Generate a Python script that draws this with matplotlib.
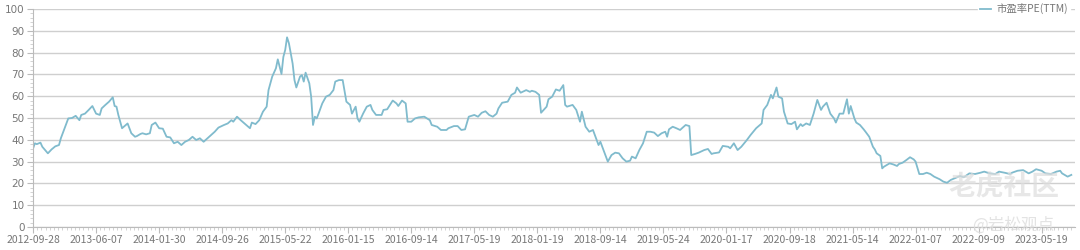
import numpy as np
import matplotlib.pyplot as plt
from matplotlib.ticker import MultipleLocator

plt.rcParams['font.family'] = ['Noto Sans CJK SC', 'DejaVu Sans']

# weekly category index -> PE(TTM)
week = [0, 1, 2, 4, 5, 8, 10, 12, 14, 15, 17, 18, 19, 21, 23, 25, 26, 28, 30, 32,
        34, 36, 37, 39, 41, 43, 44, 45, 46, 48, 50, 51, 53, 55, 56, 58, 59, 61, 63, 64,
        66, 68, 70, 72, 74, 76, 78, 80, 82, 84, 86, 88, 90, 92, 95, 98, 100, 103, 105, 107,
        108, 110, 112, 115, 117, 118, 120, 122, 124, 126, 127, 129, 131, 132, 134, 135, 136, 137, 138, 140,
        141, 142, 144, 145, 146, 147, 149, 150, 151, 152, 153, 154, 156, 158, 160, 162, 163, 165, 167, 169,
        171, 172, 174, 175, 176, 178, 180, 182, 183, 185, 188, 189, 191, 194, 196, 197, 199, 201, 202, 204,
        206, 208, 211, 214, 215, 218, 220, 223, 224, 227, 229, 231, 233, 235, 238, 240, 242, 244, 246, 248,
        250, 251, 253, 256, 258, 260, 261, 263, 266, 268, 269, 271, 273, 274, 277, 278, 280, 282, 284, 286,
        287, 288, 291, 293, 295, 296, 298, 300, 302, 303, 305, 306, 308, 310, 312, 314, 316, 318, 320, 322,
        323, 325, 327, 329, 331, 333, 335, 337, 339, 341, 342, 343, 345, 347, 349, 350, 352, 354, 355, 357,
        359, 362, 364, 366, 367, 370, 372, 375, 376, 378, 380, 382, 385, 387, 390, 393, 394, 396, 398, 399,
        401, 402, 404, 405, 407, 409, 411, 412, 414, 415, 417, 419, 421, 422, 423, 425, 426, 428, 430, 432,
        433, 435, 437, 439, 440, 441, 443, 444, 446, 448, 449, 451, 453, 454, 455, 457, 458, 459, 462, 464,
        466, 467, 469, 471, 473, 475, 476, 478, 480, 482, 484, 486, 489, 491, 493, 495, 497, 500, 502, 505,
        508, 511, 513, 516, 519, 521, 524, 527, 528, 531, 534, 537, 539, 541, 544, 546, 549, 552, 554, 555,
        558, 560]
pe = [36.0, 38.4, 38.0, 38.7, 36.8, 33.8, 35.6, 37.0, 37.6, 40.7, 45.3, 47.5, 49.8, 50.0, 51.0, 49.0, 51.4, 52.0, 53.7, 55.5,
      52.0, 51.4, 54.4, 56.0, 57.5, 59.5, 55.5, 55.2, 51.4, 45.3, 46.8, 47.5, 43.0, 41.4, 41.7, 42.7, 43.0, 42.5, 43.0, 46.8,
      47.9, 45.3, 45.1, 41.4, 41.1, 38.4, 39.1, 37.6, 39.1, 39.9, 41.4, 39.9, 40.7, 39.1, 41.4, 43.7, 45.6, 46.8, 47.5, 49.0,
      48.3, 50.6, 49.0, 46.8, 45.3, 47.9, 47.2, 49.0, 52.9, 55.2, 62.8, 69.0, 72.8, 76.9, 70.2, 78.0, 81.2, 87.0, 84.3, 75.0,
      67.4, 64.0, 69.0, 69.7, 66.7, 70.8, 65.9, 59.8, 46.8, 50.6, 49.8, 52.0, 56.7, 59.8, 60.6, 62.8, 66.7, 67.4, 67.4, 57.5,
      56.0, 52.0, 55.2, 49.8, 48.3, 52.0, 55.2, 56.0, 53.7, 51.4, 51.4, 53.7, 54.0, 58.0, 56.7, 55.5, 58.0, 56.7, 48.3, 48.3,
      49.8, 50.3, 50.6, 49.0, 46.8, 46.0, 44.5, 44.5, 45.3, 46.3, 46.3, 44.5, 44.8, 50.6, 51.4, 50.6, 52.4, 53.1, 51.4, 50.6,
      52.0, 54.4, 57.0, 57.5, 60.6, 61.6, 64.0, 61.6, 62.8, 62.0, 62.5, 62.0, 60.6, 52.4, 55.2, 58.6, 59.8, 63.1, 62.5, 65.1,
      56.0, 55.2, 56.0, 53.7, 48.3, 52.9, 46.0, 43.7, 44.5, 42.2, 37.6, 39.1, 34.6, 30.0, 33.0, 34.1, 33.8, 31.5, 30.0, 30.4,
      32.3, 31.5, 35.3, 38.4, 43.7, 43.7, 43.3, 41.7, 43.0, 43.7, 41.4, 44.8, 46.0, 45.3, 44.5, 45.3, 46.8, 46.3, 33.0, 33.5,
      34.1, 35.3, 35.8, 33.5, 33.8, 34.2, 37.2, 36.8, 36.1, 38.4, 35.3, 36.8, 39.9, 42.2, 45.3, 47.5, 53.7, 56.0, 60.6, 59.0,
      64.0, 59.8, 59.0, 52.9, 47.5, 47.2, 48.3, 44.8, 47.2, 46.3, 47.5, 46.8, 52.0, 55.2, 58.3, 53.7, 55.2, 57.0, 52.0, 49.8,
      47.9, 52.0, 52.0, 58.6, 52.0, 55.5, 49.8, 47.9, 46.8, 44.8, 43.7, 41.4, 36.8, 35.6, 33.8, 32.6, 26.9, 27.7, 29.2, 28.7,
      28.0, 28.9, 29.5, 30.7, 32.0, 31.0, 30.0, 24.3, 24.3, 24.9, 24.3, 23.1, 21.9, 20.8, 20.3, 21.6, 22.3, 23.4, 22.8, 24.6,
      24.3, 24.9, 25.4, 24.6, 24.3, 25.4, 24.9, 24.3, 24.9, 25.8, 26.1, 24.6, 25.4, 26.5, 25.8, 24.6, 24.3, 25.4, 25.8, 24.6,
      23.1, 23.9]

tick_labels = ['2012-09-28', '2013-06-07', '2014-01-30', '2014-09-26', '2015-05-22', '2016-01-15',
               '2016-09-14', '2017-05-19', '2018-01-19', '2018-09-14', '2019-05-24', '2020-01-17',
               '2020-09-18', '2021-05-14', '2022-01-07', '2022-09-09', '2023-05-19']
label_step = 34
n_weeks = 562

line_color = '#80bbcd'
text_color = '#777777'

fig = plt.figure(figsize=(10.8, 2.5), dpi=100)
ax = fig.add_axes([0.0306, 0.092, 0.9648, 0.872])

ax.plot(week, pe, color=line_color, lw=1.3, label='市盈率PE(TTM)')

ax.set_xlim(0, n_weeks)
ax.set_ylim(0, 100)
ax.set_xticks(np.arange(len(tick_labels)) * label_step)
ax.set_xticklabels(tick_labels)
ax.xaxis.set_minor_locator(MultipleLocator(label_step / 15))
ax.yaxis.set_major_locator(MultipleLocator(10))
ax.yaxis.set_minor_locator(MultipleLocator(2))

ax.grid(axis='y', color='#cfcfcf', lw=1)
ax.set_axisbelow(True)
for s in ['top', 'right']:
    ax.spines[s].set_visible(False)
for s in ['left', 'bottom']:
    ax.spines[s].set_color('#bbbbbb')
ax.tick_params(which='major', length=4, color='#bbbbbb', labelcolor=text_color, labelsize=7.5, pad=2)
ax.tick_params(which='minor', length=2, color='#cccccc')
for t in ax.get_yticklabels():
    t.set_fontfamily(['DejaVu Sans'])

leg = ax.legend(loc='center right', bbox_to_anchor=(0.995, 1.0), frameon=True, fontsize=7.5,
                handlelength=1.0, handletextpad=0.5, borderpad=0.2, borderaxespad=0)
leg.get_frame().set_edgecolor('white')
leg.get_frame().set_facecolor('white')
leg.get_frame().set_alpha(1)
for t in leg.get_texts():
    t.set_color(text_color)

# watermark
fig.text(0.93, 0.25, '老虎社区', fontsize=20, color='#dddddd', alpha=0.7, ha='center', va='center', fontweight='bold')
fig.text(0.938, 0.1, '@岩松观点', fontsize=12, color='#dddddd', alpha=0.8, ha='center', va='center')

fig.savefig('out.png', dpi=100)
